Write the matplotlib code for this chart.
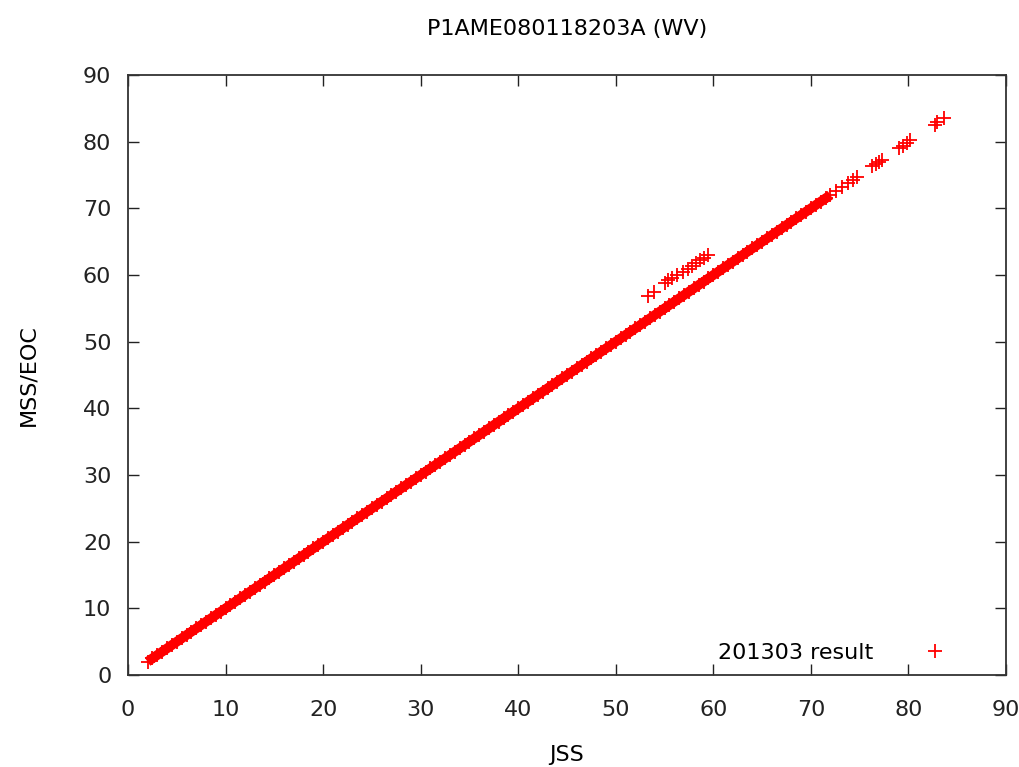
import matplotlib
matplotlib.use('Agg')
import matplotlib.pyplot as plt

plt.rcParams['font.family'] = ['DejaVu Sans']

# Valores: banda principal (JSS ~ MSS/EOC)
jss_linea = [2.0, 2.5, 3.0, 3.5, 4.0, 4.5, 5.0, 5.5, 6.0, 6.5, 7.0, 7.5, 8.0, 8.5, 9.0, 9.5,
             10.0, 10.5, 11.0, 11.5, 12.0, 12.5, 13.0, 13.5, 14.0, 14.5, 15.0, 15.5, 16.0, 16.5,
             17.0, 17.5, 18.0, 18.5, 19.0, 19.5, 20.0, 20.5, 21.0, 21.5, 22.0, 22.5, 23.0, 23.5,
             24.0, 24.5, 25.0, 25.5, 26.0, 26.5, 27.0, 27.5, 28.0, 28.5, 29.0, 29.5, 30.0, 30.5,
             31.0, 31.5, 32.0, 32.5, 33.0, 33.5, 34.0, 34.5, 35.0, 35.5, 36.0, 36.5, 37.0, 37.5,
             38.0, 38.5, 39.0, 39.5, 40.0, 40.5, 41.0, 41.5, 42.0, 42.5, 43.0, 43.5, 44.0, 44.5,
             45.0, 45.5, 46.0, 46.5, 47.0, 47.5, 48.0, 48.5, 49.0, 49.5, 50.0, 50.5, 51.0, 51.5,
             52.0, 52.5, 53.0, 53.5, 54.0, 54.5, 55.0, 55.5, 56.0, 56.5, 57.0, 57.5, 58.0, 58.5,
             59.0, 59.5, 60.0, 60.5, 61.0, 61.5, 62.0, 62.5, 63.0, 63.5, 64.0, 64.5, 65.0, 65.5,
             66.0, 66.5, 67.0, 67.5, 68.0, 68.5, 69.0, 69.5, 70.0, 70.5, 71.0, 71.5, 72.0]
mss_linea = [2.0, 2.5, 3.0, 3.5, 4.0, 4.5, 5.0, 5.5, 6.0, 6.5, 7.0, 7.5, 8.0, 8.5, 9.0, 9.5,
             10.0, 10.5, 11.0, 11.5, 12.0, 12.5, 13.0, 13.5, 14.0, 14.5, 15.0, 15.5, 16.0, 16.5,
             17.0, 17.5, 18.0, 18.5, 19.0, 19.5, 20.0, 20.5, 21.0, 21.5, 22.0, 22.5, 23.0, 23.5,
             24.0, 24.5, 25.0, 25.5, 26.0, 26.5, 27.0, 27.5, 28.0, 28.5, 29.0, 29.5, 30.0, 30.5,
             31.0, 31.5, 32.0, 32.5, 33.0, 33.5, 34.0, 34.5, 35.0, 35.5, 36.0, 36.5, 37.0, 37.5,
             38.0, 38.5, 39.0, 39.5, 40.0, 40.5, 41.0, 41.5, 42.0, 42.5, 43.0, 43.5, 44.0, 44.5,
             45.0, 45.5, 46.0, 46.5, 47.0, 47.5, 48.0, 48.5, 49.0, 49.5, 50.0, 50.5, 51.0, 51.5,
             52.0, 52.5, 53.0, 53.5, 54.0, 54.5, 55.0, 55.5, 56.0, 56.5, 57.0, 57.5, 58.0, 58.5,
             59.0, 59.5, 60.0, 60.5, 61.0, 61.5, 62.0, 62.5, 63.0, 63.5, 64.0, 64.5, 65.0, 65.5,
             66.0, 66.5, 67.0, 67.5, 68.0, 68.5, 69.0, 69.5, 70.0, 70.5, 71.0, 71.5, 72.0]

# Puntos sueltos al final de la banda
jss_sueltos = [72.6, 73.2, 73.8, 74.3, 74.7, 76.3, 76.7, 77.0, 77.3, 79.0, 79.4, 79.8, 80.2,
               82.7, 82.9, 83.6]
mss_sueltos = [72.6, 73.2, 73.8, 74.3, 74.7, 76.3, 76.7, 77.0, 77.3, 79.0, 79.4, 79.8, 80.2,
               82.5, 83.0, 83.6]

# Grupo separado por encima de la banda
jss_grupo = [53.3, 53.9, 55.0, 55.4, 55.8, 56.3, 56.9, 57.4, 57.8, 58.2, 58.6, 59.0, 59.4]
mss_grupo = [56.8, 57.5, 58.8, 59.2, 59.6, 60.0, 60.4, 60.9, 61.4, 61.8, 62.2, 62.6, 63.0]

jss = jss_linea + jss_sueltos + jss_grupo
mss = mss_linea + mss_sueltos + mss_grupo

fig = plt.figure(figsize=(10.2, 7.67), dpi=100)
ax = fig.add_axes([0.1255, 0.1199, 0.8608, 0.7823])

# la banda principal es tan densa que se ve continua
ax.plot(jss_linea, mss_linea, linestyle='-', color='red', linewidth=7,
        solid_capstyle='butt')
ax.plot(jss, mss, marker='+', linestyle='', color='red', markersize=10,
        markeredgewidth=1.3, label='201303 result')

ax.set_xlim(0, 90)
ax.set_ylim(0, 90)
ax.set_xticks(range(0, 91, 10))
ax.set_yticks(range(0, 91, 10))
ax.tick_params(direction='in', top=True, right=True, length=8, width=1,
               labelsize=16, colors='#222222')
ax.tick_params(axis='x', pad=18)
ax.tick_params(axis='y', pad=12)
for s in ax.spines.values():
    s.set_linewidth(1.3)
    s.set_color('#333333')

ax.set_title('P1AME080118203A (WV)', fontsize=16, pad=29)
ax.set_xlabel('JSS', fontsize=16, labelpad=18)
ax.set_ylabel('MSS/EOC', fontsize=16, labelpad=32)

ax.legend(loc='lower right', bbox_to_anchor=(0.971, -0.01), markerfirst=False,
          frameon=False, fontsize=16, handlelength=2.5, handletextpad=1.55,
          borderaxespad=0.4)

fig.savefig('out.png', dpi=100)
